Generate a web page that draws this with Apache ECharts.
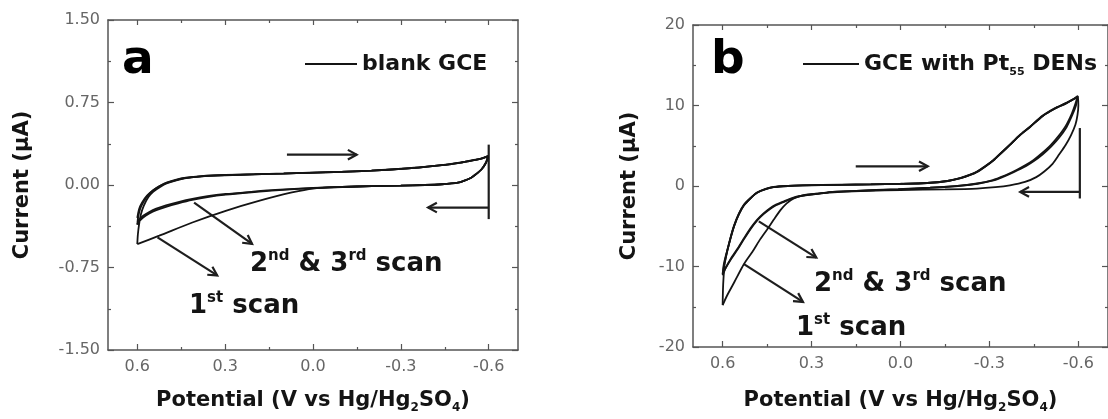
<!DOCTYPE html>
<html><head><meta charset="utf-8">
<script src="https://cdn.jsdelivr.net/npm/echarts@6/dist/echarts.min.js"></script>
<style>html,body{margin:0;padding:0;background:#fff}#c{width:1108px;height:419px}</style>
</head><body><div id="c"></div>
<script>
// ---------- data ----------
const xTicks = [0.6, 0.3, 0.0, -0.3, -0.6];
const xMinorTicks = [0.45, 0.15, -0.15, -0.45];
const xRange = [-0.7, 0.7];
const yTicksA = [1.5, 0.75, 0, -0.75, -1.5];
const yTicksB = [20, 10, 0, -10, -20];

// panel a : blank GCE, [potential V, current uA]
const aScan1 = [
 [0.600,-0.30],[0.594,-0.22],[0.584,-0.16],[0.566,-0.095],[0.548,-0.052],[0.525,-0.012],[0.502,0.018],[0.470,0.043],[0.434,0.064],[0.380,0.079],[0.300,0.089],[0.200,0.097],[0.100,0.104],[0.013,0.111],[-0.100,0.120],[-0.200,0.130],[-0.270,0.141],[-0.360,0.158],[-0.440,0.180],[-0.500,0.202],[-0.530,0.216],[-0.560,0.231],[-0.580,0.244],[-0.598,0.262],
 [-0.590,0.200],[-0.575,0.141],[-0.555,0.095],[-0.540,0.066],[-0.515,0.037],[-0.495,0.021],[-0.440,0.007],[-0.382,0.000],[-0.300,-0.005],[-0.200,-0.010],[-0.100,-0.018],[0.000,-0.032],[0.072,-0.068],[0.185,-0.145],[0.298,-0.235],[0.412,-0.341],[0.525,-0.461],[0.600,-0.537]
];
const aScan2 = [
 [0.600,-0.537],[0.598,-0.45],[0.594,-0.36],[0.588,-0.27],[0.578,-0.19],[0.562,-0.11],[0.545,-0.06],[0.522,-0.018],[0.500,0.014],[0.470,0.040],[0.434,0.062],[0.380,0.078],[0.300,0.088],[0.200,0.097],[0.100,0.104],[0.013,0.111],[-0.100,0.120],[-0.200,0.130],[-0.270,0.141],[-0.360,0.158],[-0.440,0.180],[-0.500,0.202],[-0.530,0.216],[-0.560,0.231],[-0.580,0.244],[-0.598,0.262],
 [-0.590,0.200],[-0.575,0.141],[-0.555,0.095],[-0.540,0.066],[-0.515,0.037],[-0.495,0.021],[-0.440,0.007],[-0.382,0.000],[-0.300,-0.005],[-0.200,-0.010],[-0.100,-0.018],[0.000,-0.028],[0.128,-0.048],[0.210,-0.066],[0.298,-0.088],[0.360,-0.110],[0.412,-0.136],[0.460,-0.167],[0.502,-0.198],[0.535,-0.228],[0.559,-0.258],[0.580,-0.295],[0.595,-0.335],[0.600,-0.360]
];
const aScan3 = [
 [0.600,-0.360],[0.597,-0.29],[0.590,-0.215],[0.578,-0.15],[0.562,-0.09],[0.545,-0.048],[0.522,-0.008],[0.500,0.022],[0.470,0.046],[0.434,0.066],[0.380,0.081],[0.300,0.091],[0.200,0.098],[0.100,0.105],[0.013,0.112],[-0.100,0.121],[-0.200,0.131],[-0.270,0.142],[-0.360,0.159],[-0.440,0.181],[-0.500,0.203],[-0.530,0.217],[-0.560,0.232],[-0.580,0.245],[-0.598,0.262],
 [-0.590,0.200],[-0.575,0.141],[-0.555,0.095],[-0.540,0.066],[-0.515,0.037],[-0.495,0.021],[-0.440,0.007],[-0.382,0.000],[-0.300,-0.005],[-0.200,-0.010],[-0.100,-0.018],[0.000,-0.026],[0.128,-0.045],[0.210,-0.062],[0.298,-0.082],[0.360,-0.102],[0.412,-0.126],[0.460,-0.155],[0.502,-0.185],[0.535,-0.215],[0.559,-0.245],[0.580,-0.280],[0.595,-0.320],[0.600,-0.340]
];

// panel b : GCE with Pt55 DENs
const bScan1 = [
 [0.600,-11.0],[0.595,-9.8],[0.588,-8.7],[0.583,-7.9],[0.572,-6.3],[0.561,-4.95],[0.545,-3.5],[0.528,-2.4],[0.505,-1.5],[0.484,-0.85],[0.455,-0.40],[0.428,-0.15],[0.380,0.00],[0.330,0.07],[0.200,0.14],[0.100,0.19],[0.000,0.26],[-0.090,0.37],[-0.159,0.62],[-0.203,0.98],[-0.235,1.38],[-0.258,1.75],[-0.285,2.4],[-0.314,3.2],[-0.340,4.1],[-0.369,5.1],[-0.400,6.2],[-0.436,7.3],[-0.480,8.7],[-0.520,9.6],[-0.560,10.3],[-0.585,10.8],[-0.598,11.1],
 [-0.600,10.0],[-0.597,8.8],[-0.590,7.6],[-0.575,6.3],[-0.557,5.1],[-0.535,3.9],[-0.513,2.75],[-0.485,1.8],[-0.458,1.1],[-0.420,0.5],[-0.369,0.08],[-0.320,-0.15],[-0.258,-0.32],[-0.150,-0.42],[0.000,-0.50],[0.107,-0.60],[0.200,-0.74],[0.280,-0.95],[0.329,-1.15],[0.360,-1.55],[0.384,-2.15],[0.405,-3.0],[0.428,-4.2],[0.450,-5.4],[0.473,-6.6],[0.500,-8.2],[0.528,-9.7],[0.560,-11.9],[0.585,-13.6],[0.600,-14.8]
];
const bScan2 = [
 [0.600,-14.8],[0.599,-13.0],[0.597,-11.4],[0.593,-9.6],[0.585,-8.1],[0.572,-6.3],[0.561,-4.95],[0.545,-3.5],[0.528,-2.4],[0.505,-1.5],[0.484,-0.85],[0.455,-0.40],[0.428,-0.15],[0.380,0.00],[0.330,0.07],[0.200,0.14],[0.100,0.19],[0.000,0.26],[-0.090,0.37],[-0.159,0.62],[-0.203,0.98],[-0.235,1.38],[-0.258,1.75],[-0.285,2.4],[-0.314,3.2],[-0.340,4.1],[-0.369,5.1],[-0.400,6.2],[-0.436,7.3],[-0.480,8.7],[-0.520,9.6],[-0.560,10.3],[-0.585,10.8],[-0.598,11.1],
 [-0.592,10.0],[-0.580,8.85],[-0.560,7.3],[-0.535,6.0],[-0.508,4.9],[-0.480,3.95],[-0.450,3.1],[-0.424,2.5],[-0.395,1.95],[-0.369,1.5],[-0.340,1.05],[-0.314,0.70],[-0.260,0.28],[-0.203,0.03],[-0.100,-0.22],[0.008,-0.42],[0.107,-0.55],[0.229,-0.74],[0.273,-0.94],[0.320,-1.15],[0.351,-1.38],[0.375,-1.68],[0.395,-2.0],[0.420,-2.4],[0.440,-2.85],[0.462,-3.5],[0.484,-4.3],[0.505,-5.3],[0.528,-6.6],[0.550,-7.9],[0.572,-9.1],[0.590,-10.2],[0.600,-10.9]
];
const bScan3 = [
 [0.600,-10.9],[0.596,-9.7],[0.589,-8.6],[0.583,-7.8],[0.572,-6.2],[0.561,-4.85],[0.545,-3.4],[0.528,-2.3],[0.505,-1.45],[0.484,-0.8],[0.455,-0.36],[0.428,-0.12],[0.380,0.02],[0.330,0.09],[0.200,0.16],[0.100,0.21],[0.000,0.28],[-0.090,0.39],[-0.159,0.65],[-0.203,1.02],[-0.235,1.42],[-0.258,1.8],[-0.285,2.45],[-0.314,3.25],[-0.340,4.15],[-0.369,5.15],[-0.400,6.25],[-0.436,7.35],[-0.480,8.75],[-0.520,9.65],[-0.560,10.35],[-0.585,10.85],[-0.598,11.2],
 [-0.590,10.2],[-0.578,9.0],[-0.558,7.5],[-0.533,6.2],[-0.506,5.05],[-0.478,4.1],[-0.448,3.2],[-0.422,2.6],[-0.393,2.02],[-0.367,1.55],[-0.338,1.1],[-0.312,0.74],[-0.258,0.31],[-0.200,0.05],[-0.100,-0.20],[0.008,-0.40],[0.107,-0.53],[0.229,-0.72],[0.273,-0.92],[0.320,-1.12],[0.351,-1.33],[0.375,-1.62],[0.395,-1.93],[0.420,-2.32],[0.440,-2.75],[0.462,-3.4],[0.484,-4.2],[0.505,-5.2],[0.528,-6.5],[0.550,-7.8],[0.572,-9.0],[0.590,-10.2],[0.600,-11.1]
];

// annotation arrows [x1, y1, x2, y2, head]
const arrowsA = [
 [0.089,0.276,-0.149,0.276,1],
 [-0.600,0.367,-0.600,-0.310,0],
 [-0.600,-0.205,-0.393,-0.205,1],
 [0.406,-0.160,0.208,-0.536,1],
 [0.531,-0.476,0.327,-0.822,1]
];
const arrowsB = [
 [0.151,2.45,-0.092,2.45,1],
 [-0.605,7.2,-0.605,-1.55,0],
 [-0.605,-0.73,-0.404,-0.73,1],
 [0.478,-4.4,0.284,-8.9,1],
 [0.528,-9.7,0.329,-14.4,1]
];

// ---------- chart ----------
const FONT = 'DejaVu Sans';
const AX = '#555';
const INK = '#141414';

const xName = '{n|Potential (V vs Hg/Hg}{s|2}{n|SO}{s|4}{n|)}';
const xNameStyle = {
  rich: {
    n: {fontSize: 21, fontWeight: 'bold', fontFamily: FONT, color: INK, lineHeight: 26},
    s: {fontSize: 12, fontWeight: 'bold', fontFamily: FONT, color: INK, lineHeight: 10, verticalAlign: 'bottom'}
  }
};

function xAxesFor(g, nameGap) {
  const base = {type: 'value', gridIndex: g, min: xRange[0], max: xRange[1], inverse: true,
    splitLine: {show: false}};
  return [
    Object.assign({}, base, {position: 'bottom',
      axisLine: {show: true, onZero: false, lineStyle: {color: AX, width: 1.5}},
      axisTick: {show: true, inside: true, length: 6, customValues: xTicks, lineStyle: {color: AX, width: 1.2}},
      axisLabel: {show: true, customValues: xTicks, formatter: v => v.toFixed(1), margin: 9,
        fontSize: 16, color: '#666', fontFamily: FONT},
      name: xName, nameLocation: 'middle', nameGap: nameGap, nameTextStyle: xNameStyle}),
    Object.assign({}, base, {position: 'bottom',
      axisLine: {show: false, onZero: false},
      axisTick: {show: true, inside: true, length: 3, customValues: xMinorTicks, lineStyle: {color: AX, width: 1.2}},
      axisLabel: {show: false}}),
    Object.assign({}, base, {position: 'top',
      axisLine: {show: true, onZero: false, lineStyle: {color: AX, width: 1.5}},
      axisTick: {show: true, inside: true, length: 5, customValues: xTicks, lineStyle: {color: AX, width: 1.2}},
      axisLabel: {show: false}}),
    Object.assign({}, base, {position: 'top',
      axisLine: {show: false, onZero: false},
      axisTick: {show: true, inside: true, length: 3, customValues: xMinorTicks, lineStyle: {color: AX, width: 1.2}},
      axisLabel: {show: false}})
  ];
}

function yAxesFor(g, ticks, digits, nameGap) {
  const mn = Math.min.apply(null, ticks), mx = Math.max.apply(null, ticks);
  const iv = Math.abs(ticks[0] - ticks[1]);
  const base = {type: 'value', gridIndex: g, min: mn, max: mx, interval: iv,
    splitLine: {show: false},
    axisLine: {show: true, onZero: false, lineStyle: {color: AX, width: 1.5}},
    axisTick: {show: true, inside: true, length: 6, lineStyle: {color: AX, width: 1.2}},
    minorTick: {show: true, splitNumber: 2, length: 3, lineStyle: {color: AX, width: 1.2}}};
  return [
    Object.assign({}, base, {position: 'left',
      axisLabel: {show: true, formatter: v => v.toFixed(digits), margin: 8, fontSize: 16, color: '#666', fontFamily: FONT},
      name: 'Current (\u03bcA)', nameLocation: 'middle', nameGap: nameGap,
      nameTextStyle: {fontSize: 21, fontWeight: 'bold', fontFamily: FONT, color: INK}}),
    Object.assign({}, base, {position: 'right', axisLabel: {show: false}})
  ];
}

function scanSeries(name, data, xi, yi) {
  return {type: 'line', name: name, data: data, xAxisIndex: xi, yAxisIndex: yi,
    showSymbol: false, symbol: 'none', smooth: 0.25, clip: false,
    lineStyle: {color: INK, width: 1.8}, itemStyle: {color: INK}};
}

function arrowItem(params, api) {
  const p1 = api.coord([api.value(0), api.value(1)]);
  const p2 = api.coord([api.value(2), api.value(3)]);
  const children = [{type: 'line', shape: {x1: p1[0], y1: p1[1], x2: p2[0], y2: p2[1]},
    style: {stroke: '#1e1e1e', lineWidth: 2.2}}];
  if (api.value(4)) {
    const ang = Math.atan2(p2[1] - p1[1], p2[0] - p1[0]);
    const L = 10, w = 0.5;
    children.push({type: 'polyline', shape: {points: [
      [p2[0] - L * Math.cos(ang - w), p2[1] - L * Math.sin(ang - w)],
      [p2[0], p2[1]],
      [p2[0] - L * Math.cos(ang + w), p2[1] - L * Math.sin(ang + w)]]},
      style: {stroke: '#1e1e1e', lineWidth: 2.2, fill: null}});
  }
  return {type: 'group', children: children};
}

function arrowSeries(data, xi, yi) {
  return {type: 'custom', data: data, xAxisIndex: xi, yAxisIndex: yi, renderItem: arrowItem,
    clip: false, silent: true, encode: {x: [0, 2], y: [1, 3]}};
}

const scanText = {
  m: {fontSize: 26, fontWeight: 'bold', fontFamily: FONT, fill: INK, lineHeight: 31},
  u: {fontSize: 15, fontWeight: 'bold', fontFamily: FONT, fill: INK, lineHeight: 18, verticalAlign: 'top'}
};
function txt(x, y, text, rich) {
  return {type: 'text', x: x, y: y, silent: true,
    style: {text: text, rich: rich, align: 'left', verticalAlign: 'middle', fill: INK}};
}
function bigLetter(x, y, t) {
  return {type: 'text', x: x, y: y, silent: true,
    style: {text: t, fontSize: 47, fontWeight: 'bold', fontFamily: FONT, fill: '#000', align: 'left', verticalAlign: 'middle'}};
}

const A = 'blank GCE', B = 'GCE with Pt55 DENs';
const option = {
  animation: false,
  backgroundColor: '#fff',
  grid: [
    {left: 108, top: 20, width: 410, height: 332},
    {left: 693, top: 25, width: 423, height: 327}
  ],
  xAxis: xAxesFor(0, 38).concat(xAxesFor(1, 41)),
  yAxis: yAxesFor(0, yTicksA, 2, 75).concat(yAxesFor(1, yTicksB, 0, 53)),
  legend: [
    {data: [A], left: 300, top: 48, icon: 'rect', itemWidth: 52, itemHeight: 2, selectedMode: false,
      textStyle: {fontSize: 22, fontWeight: 'bold', fontFamily: FONT, color: INK}},
    {data: [B], left: 798, top: 48, icon: 'rect', itemWidth: 56, itemHeight: 2, selectedMode: false,
      formatter: () => '{n|GCE with Pt}{s|55}{n| DENs}',
      textStyle: {rich: {
        n: {fontSize: 22, fontWeight: 'bold', fontFamily: FONT, color: INK, lineHeight: 28},
        s: {fontSize: 11, fontWeight: 'bold', fontFamily: FONT, color: INK, lineHeight: 9, verticalAlign: 'bottom'}}}}
  ],
  series: [
    scanSeries(A, aScan1, 0, 0), scanSeries(A, aScan2, 0, 0), scanSeries(A, aScan3, 0, 0),
    arrowSeries(arrowsA, 0, 0),
    scanSeries(B, bScan1, 4, 2), scanSeries(B, bScan2, 4, 2), scanSeries(B, bScan3, 4, 2),
    arrowSeries(arrowsB, 4, 2)
  ],
  graphic: [
    bigLetter(122, 61, 'a'),
    bigLetter(711, 61, 'b'),
    txt(250, 264, '{m|2}{u|nd}{m| & 3}{u|rd}{m| scan}', scanText),
    txt(189, 306, '{m|1}{u|st}{m| scan}', scanText),
    txt(814, 284, '{m|2}{u|nd}{m| & 3}{u|rd}{m| scan}', scanText),
    txt(796, 328, '{m|1}{u|st}{m| scan}', scanText)
  ]
};
const chart = echarts.init(document.getElementById('c'), null, {renderer: 'canvas'});
chart.setOption(option);
</script>
</body></html>
